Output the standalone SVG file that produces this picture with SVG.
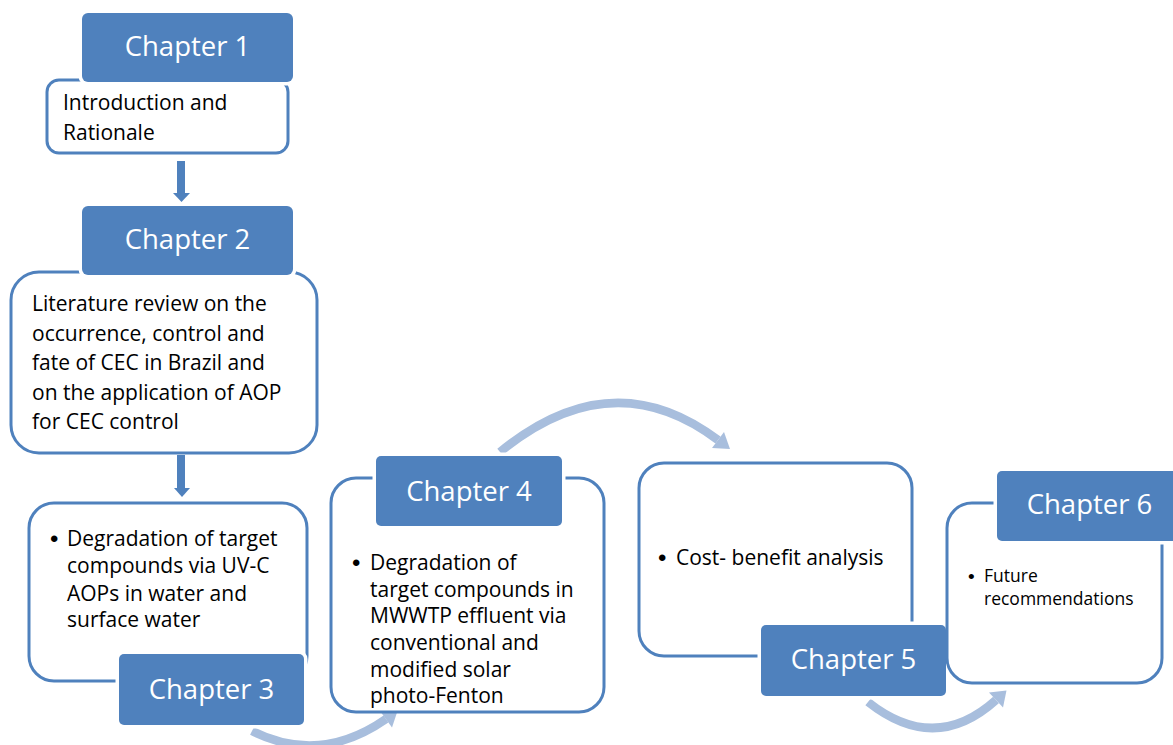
<svg xmlns="http://www.w3.org/2000/svg" width="1173" height="745" viewBox="0 0 1173 745">
<style>
.box{fill:#fff;stroke:#4F81BD;stroke-width:3}
.lab{fill:#4F81BD;stroke:#fff;stroke-width:7;paint-order:stroke}
.lt{font-family:"Open Sans","Liberation Sans",sans-serif;font-size:27.5px;fill:#fff;text-anchor:middle}
.bt{font-family:"Open Sans","Liberation Sans",sans-serif;font-size:21px;fill:#000}
.st{font-family:"Open Sans","Liberation Sans",sans-serif;font-size:17.5px;fill:#000}
.bul{font-family:"Liberation Sans",sans-serif;font-size:24px;fill:#000}
.bus{font-family:"Liberation Sans",sans-serif;font-size:19px;fill:#000}
.curve{fill:none;stroke:#A8BEDD;stroke-width:8.5}
.head{fill:#A8BEDD}
.down{fill:#4F81BD}
</style>
<rect width="1173" height="745" fill="#fff"/>
<g id="connectors">
<rect class="down" x="177" y="161" width="8" height="33"/>
<polygon class="down" points="173,193 190,193 181.5,202"/>
<rect class="down" x="177" y="455" width="8" height="34"/>
<polygon class="down" points="174,488 190,488 182,497"/>
<path class="curve" d="M252 731 Q320 765 386 719"/>
<polygon class="head" points="397.5,711 392,727.5 380,711"/>
<path class="curve" d="M500 452 Q612 360 718 440"/>
<polygon class="head" points="730,449 712,448 724,432"/>
<path class="curve" d="M868 702 Q935 755 996 700"/>
<polygon class="head" points="1006.5,690.5 1003,707.5 989,692.5"/>
</g>
<g id="ch1">
<rect class="box" x="47" y="80" width="241" height="73" rx="12"/>
<rect class="lab" x="82" y="13" width="211" height="69" rx="6"/>
<text class="lt" x="187.5" y="56">Chapter 1</text>
<text class="bt" x="63" y="110">Introduction and</text>
<text class="bt" x="63" y="140">Rationale</text>
</g>
<g id="ch2">
<rect class="box" x="11" y="272" width="306" height="181" rx="28"/>
<rect class="lab" x="82" y="206" width="211" height="69" rx="6"/>
<text class="lt" x="187.5" y="249">Chapter 2</text>
<text class="bt" x="32" y="311">Literature review on the</text>
<text class="bt" x="32" y="341">occurrence, control and</text>
<text class="bt" x="32" y="370">fate of CEC in Brazil and</text>
<text class="bt" x="32" y="400">on the application of AOP</text>
<text class="bt" x="32" y="429">for CEC control</text>
</g>
<g id="ch3">
<rect class="box" x="29" y="503" width="278" height="178" rx="25"/>
<rect class="lab" x="119" y="654" width="185" height="71" rx="5"/>
<text class="lt" x="211.5" y="699">Chapter 3</text>
<text class="bul" x="50" y="547">•</text>
<text class="bt" x="67" y="546">Degradation of target</text>
<text class="bt" x="67" y="573">compounds via UV-C</text>
<text class="bt" x="67" y="601">AOPs in water and</text>
<text class="bt" x="67" y="627">surface water</text>
</g>
<g id="ch4">
<rect class="box" x="331" y="478" width="273" height="234" rx="25"/>
<rect class="lab" x="376" y="456" width="186" height="70" rx="5"/>
<text class="lt" x="469" y="501">Chapter 4</text>
<text class="bul" x="352" y="571">•</text>
<text class="bt" x="370" y="570">Degradation of</text>
<text class="bt" x="370" y="597">target compounds in</text>
<text class="bt" x="370" y="623">MWWTP effluent via</text>
<text class="bt" x="370" y="650">conventional and</text>
<text class="bt" x="370" y="677">modified solar</text>
<text class="bt" x="370" y="703">photo-Fenton</text>
</g>
<g id="ch5">
<rect class="box" x="639" y="463" width="273" height="193" rx="25"/>
<rect class="lab" x="761" y="625" width="185" height="71" rx="5"/>
<text class="lt" x="853.5" y="669">Chapter 5</text>
<text class="bul" x="658" y="566">•</text>
<text class="bt" x="676" y="565">Cost- benefit analysis</text>
</g>
<g id="ch6">
<rect class="box" x="947" y="503" width="215" height="180" rx="25"/>
<rect class="lab" x="997" y="471" width="186" height="70" rx="5"/>
<text class="lt" x="1089.5" y="514">Chapter 6</text>
<text class="bus" x="968" y="583">•</text>
<text class="st" x="984" y="582">Future</text>
<text class="st" x="984" y="605">recommendations</text>
</g>
</svg>
